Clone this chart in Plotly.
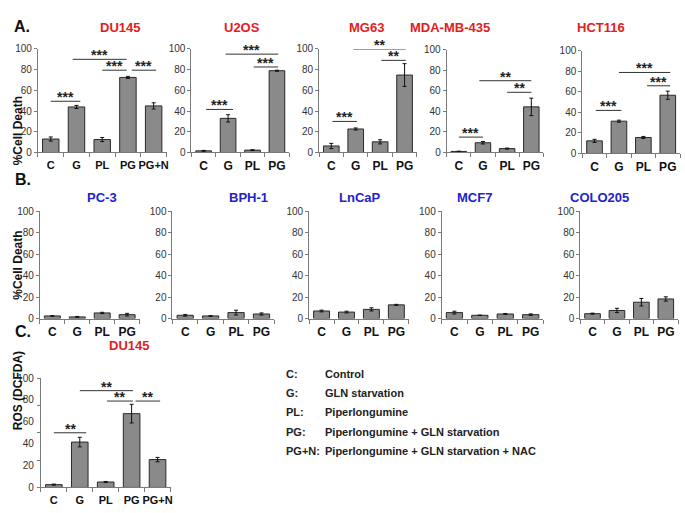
import plotly.graph_objects as go

W, H = 685, 513

cats = ["C", "G", "PL", "PG", "PG+N"]

# ---- Panel A: % cell death (sensitive lines) ----
du145_vals = [13, 44, 12.5, 72.5, 45]
du145_err = [2, 1.5, 2, 1, 3]
u2os_vals = [1.6, 33, 2.3, 79]
u2os_err = [0.4, 3.5, 0.4, 0.5]
mg63_vals = [6.3, 22.7, 10.3, 74.8]
mg63_err = [2.5, 1, 2, 11]
mda_vals = [1, 9.5, 3.8, 44.5]
mda_err = [0.3, 1.2, 0.5, 8.5]
hct116_vals = [12.3, 31.5, 15.6, 56.8]
hct116_err = [1.5, 1, 1, 4]

# ---- Panel B: % cell death (resistant lines) ----
pc3_vals = [2.4, 1.5, 5.2, 3.6]
pc3_err = [0.3, 0.4, 0.6, 1.2]
bph1_vals = [3, 2.4, 5.5, 4.2]
bph1_err = [0.8, 0.3, 2.2, 1]
lncap_vals = [7, 6, 8.5, 12.7]
lncap_err = [0.8, 0.8, 1.5, 0.5]
mcf7_vals = [5.5, 3, 4.2, 3.6]
mcf7_err = [1.3, 0.2, 0.5, 0.7]
colo205_vals = [4.5, 7.5, 15.2, 18.2]
colo205_err = [0.5, 2, 3.5, 2]

# ---- Panel C: ROS in DU145 ----
ros_vals = [2.6, 41.5, 5, 67.5, 25.5]
ros_err = [0.5, 4.4, 0.5, 8.5, 2]

# significance brackets: (from, to, height, stars)
du145_sig = [(0, 1.15, 49.5, "***"), (0.85, 2.95, 90, "***"), (2.0, 2.95, 79.5, "***"), (3.15, 4.1, 79.5, "***")]
u2os_sig = [(0.1, 1.2, 41.6, "***"), (0.9, 3.05, 95, "***"), (2.05, 3.05, 82.6, "***")]
mg63_sig = [(0.05, 1.05, 30, "***"), (0.9, 3.05, 100, "**"), (2.05, 3.05, 89, "**")]
mda_sig = [(0, 1.0, 15, "***"), (0.85, 3.0, 70, "**"), (2.0, 3.0, 58.7, "**")]
hct116_sig = [(0.05, 1.1, 42, "***"), (1.0, 3.1, 79, "***"), (2.15, 3.1, 66, "***")]
ros_sig = [(0, 1.25, 50, "**"), (1.0, 3.05, 88.5, "**"), (2.05, 3.05, 79, "**"), (3.15, 4.1, 79, "**")]

legend_keys = ["C:", "G:", "PL:", "PG:", "PG+N:"]
legend_text = ["Control", "GLN starvation", "Piperlongumine",
               "Piperlongumine + GLN starvation",
               "Piperlongumine + GLN starvation + NAC"]

RED = "#e3201b"
BLUE = "#2222cc"
FONT = "Liberation Sans"

# name, title colour, values, errors, sig, axis box in px (x0, x1, y100, y0), title pos
panels = [
    ("DU145", RED, du145_vals, du145_err, du145_sig, (38, 167, 44, 150), (98, 12)),
    ("U2OS", RED, u2os_vals, u2os_err, u2os_sig, (192, 290, 44, 150), (243, 12)),
    ("MG63", RED, mg63_vals, mg63_err, mg63_sig, (320, 418, 44, 150), (368, 12)),
    ("MDA-MB-435", RED, mda_vals, mda_err, mda_sig, (448, 545, 45, 150), (493, 12)),
    ("HCT116", RED, hct116_vals, hct116_err, hct116_sig, (584, 682, 46, 151), (629, 12)),
    ("PC-3", BLUE, pc3_vals, pc3_err, [], (40, 140, 210, 320), (85, 196)),
    ("BPH-1", BLUE, bph1_vals, bph1_err, [], (173, 275, 210, 320), (228, 196)),
    ("LnCaP", BLUE, lncap_vals, lncap_err, [], (310, 410, 210, 320), (361, 196)),
    ("MCF7", BLUE, mcf7_vals, mcf7_err, [], (443, 545, 210, 320), (495, 196)),
    ("COLO205", BLUE, colo205_vals, colo205_err, [], (582, 680, 210, 320), (633, 196)),
    ("DU145", RED, ros_vals, ros_err, ros_sig, (41, 171, 381, 493), (107, 357)),
]


def fx(p):
    return p / W


def fy(p):
    return 1 - p / H


fig = go.Figure()
annotations = []
shapes = []
layout_axes = {}

for i, (name, col, vals, errs, sig, box, tpos) in enumerate(panels):
    k = "" if i == 0 else str(i + 1)
    n = len(vals)
    x0, x1, ytop, ybot = box
    fig.add_trace(go.Bar(
        x=list(range(n)), y=vals,
        error_y=dict(type="data", array=errs, color="#111", thickness=1, width=2),
        marker=dict(color="#8a8a8a", line=dict(color="#2a2a2a", width=1)),
        width=0.64, xaxis="x" + k, yaxis="y" + k, showlegend=False,
    ))
    layout_axes["xaxis" + k] = dict(
        domain=[fx(x0), fx(x1)], anchor="y" + k, range=[-0.5, n - 0.5],
        tickmode="array", tickvals=list(range(n)), ticktext=cats[:n], tickangle=0,
        tickfont=dict(family=FONT, size=11 if n == 5 else 12, color="#111", weight="bold"),
        showline=True, linecolor="#7a7a7a", linewidth=1, ticks="",
        ticklabelstandoff=2,
        minor=dict(tickmode="array", tickvals=[j - 0.5 for j in range(n + 1)],
                   ticks="outside", ticklen=4, tickcolor="#7a7a7a", showgrid=False),
        showgrid=False, zeroline=False, fixedrange=True,
    )
    yax = dict(
        domain=[fy(ybot), fy(ytop)], anchor="x" + k, range=[0, 100],
        tickmode="array", tickvals=[0, 20, 40, 60, 80, 100],
        tickfont=dict(family=FONT, size=10, color="#333"),
        showline=True, linecolor="#7a7a7a", linewidth=1,
        ticks="outside", ticklen=3, tickcolor="#7a7a7a",
        showgrid=False, zeroline=False, fixedrange=True,
    )
    if i == 10:
        # ROS panel: tick marks sit at quarter steps, labels at 20 steps
        yax["ticks"] = ""
        yax["ticklabelstandoff"] = 4
        yax["minor"] = dict(tickmode="array", tickvals=[0, 25, 50, 75, 100],
                            ticks="outside", ticklen=3, tickcolor="#7a7a7a", showgrid=False)
    layout_axes["yaxis" + k] = yax

    annotations.append(dict(
        x=fx(tpos[0]), y=fy(tpos[1]), xref="paper", yref="paper", text=name,
        showarrow=False, font=dict(family=FONT, size=13, color=col, weight="bold"),
    ))

    for a, b, h, stars in sig:
        shapes.append(dict(type="line", xref="x" + k, yref="y" + k,
                           x0=a, x1=b, y0=h, y1=h, line=dict(color="#333", width=1)))
        annotations.append(dict(
            x=(a + b) / 2, y=h, xref="x" + k, yref="y" + k, text=stars,
            showarrow=False, yanchor="bottom", yshift=-6,
            font=dict(family=FONT, size=14, color="#222", weight="bold"),
        ))

# panel letters
for letter, (lx, ly) in zip(["A.", "B.", "C."], [(12, 10), (13, 178), (13, 344)]):
    annotations.append(dict(x=fx(lx), y=fy(ly), xref="paper", yref="paper", text=letter,
                            showarrow=False, font=dict(family=FONT, size=16, color="#111", weight="bold")))

# y axis titles
for txt, (tx, ty) in [("%Cell Death", (9, 90)), ("%Cell Death", (9, 265)), ("ROS (DCFDA)", (9, 436))]:
    annotations.append(dict(x=fx(tx), y=fy(ty), xref="paper", yref="paper", text=txt,
                            textangle=-90, showarrow=False,
                            font=dict(family=FONT, size=12, color="#111", weight="bold")))

# treatment key
for j, (key, txt) in enumerate(zip(legend_keys, legend_text)):
    yy = fy(385 + j * 19.7)
    annotations.append(dict(x=fx(285), y=yy, xref="paper", yref="paper", text=key,
                            xanchor="left", showarrow=False,
                            font=dict(family=FONT, size=11, color="#222", weight="bold")))
    annotations.append(dict(x=fx(324), y=yy, xref="paper", yref="paper", text=txt,
                            xanchor="left", showarrow=False,
                            font=dict(family=FONT, size=11, color="#222", weight="bold")))

fig.update_layout(
    width=W, height=H, margin=dict(l=0, r=0, t=0, b=0),
    paper_bgcolor="white", plot_bgcolor="white",
    bargap=0.35, showlegend=False,
    annotations=annotations, shapes=shapes,
    **layout_axes,
)

# drop the browser's default body margin so the figure fills the window exactly
fig.write_html("out.html", config={"displayModeBar": False},
               post_script="document.body.style.margin='0';")
